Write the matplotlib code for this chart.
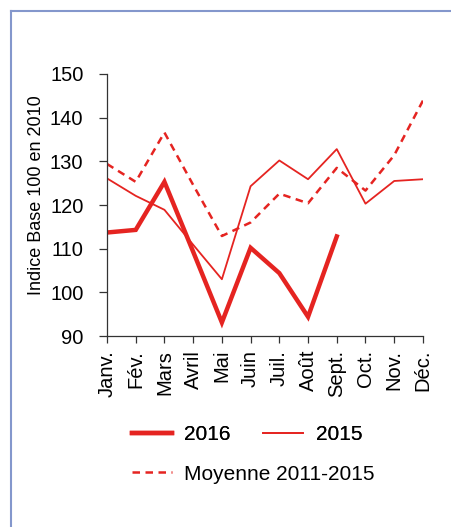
import numpy as np
import matplotlib.pyplot as plt
from matplotlib.lines import Line2D

plt.rcParams['font.family'] = ['Liberation Sans', 'DejaVu Sans']

mois = ['Janv.', 'Fév.', 'Mars', 'Avril', 'Mai', 'Juin', 'Juil.', 'Août',
        'Sept.', 'Oct.', 'Nov.', 'Déc.']
v2016 = [113.7, 114.3, 125.3, 109.3, 93.1, 110.2, 104.4, 94.4, 112.8]
v2015 = [126.1, 122.1, 118.9, 110.9, 103.0, 124.3, 130.2, 125.9, 132.8,
         120.3, 125.5, 125.9]
moyenne = [129.4, 125.3, 136.6, 124.6, 112.9, 116.0, 122.6, 120.4, 128.5,
           123.3, 131.4, 143.9]

rouge = '#e52421'

fig = plt.figure(figsize=(4.52, 5.27), dpi=100)
ax = fig.add_axes([0.2367, 0.3624, 0.699, 0.4972])

x = np.arange(len(mois))
h16, = ax.plot(x[:len(v2016)], v2016, color=rouge, lw=3.2,
               solid_joinstyle='miter')
h15, = ax.plot(x, v2015, color=rouge, lw=1.3)
hmoy, = ax.plot(x, moyenne, color=rouge, lw=1.8, dashes=(3, 2.2))

ax.set_xlim(0, 11)
ax.set_ylim(90, 150)
ax.set_yticks(np.arange(90, 151, 10))
ax.set_xticks(x)
ax.set_xticklabels(mois, rotation=90)

for s in ['top', 'right']:
    ax.spines[s].set_visible(False)
for s in ['left', 'bottom']:
    ax.spines[s].set_color('#333333')
    ax.spines[s].set_linewidth(0.9)
ax.tick_params(axis='y', direction='out', length=6, width=0.9,
               color='#333333', labelsize=14.5, pad=11)
ax.tick_params(axis='x', direction='out', length=5, width=0.9,
               color='#333333', labelsize=14.5, pad=5)

ax.set_ylabel('Indice Base 100 en 2010', fontsize=13)
ax.yaxis.set_label_coords(-0.196, 0.536)

leg1 = fig.legend([h16, h15], ['2016', '2015'], ncol=2, frameon=False,
                  fontsize=15, loc='center left',
                  bbox_to_anchor=(0.292, 1 - 435 / 527), borderpad=0,
                  borderaxespad=0, handlelength=1.9, handletextpad=0.62,
                  columnspacing=1.55)
leg2 = fig.legend([hmoy], ['Moyenne 2011-2015'], frameon=False,
                  fontsize=15, loc='center left',
                  bbox_to_anchor=(0.292, 1 - 474 / 527), borderpad=0,
                  borderaxespad=0, handlelength=1.9, handletextpad=0.62)
fig.add_artist(leg1)

# cadre
cadre = '#8497cc'
fig.add_artist(Line2D([11 / 452, 1], [1 - 11 / 527, 1 - 11 / 527],
                      transform=fig.transFigure, color=cadre, lw=1.5))
fig.add_artist(Line2D([11 / 452, 11 / 452], [0, 1 - 11 / 527],
                      transform=fig.transFigure, color=cadre, lw=1.5))

fig.savefig('out.png', dpi=100)
